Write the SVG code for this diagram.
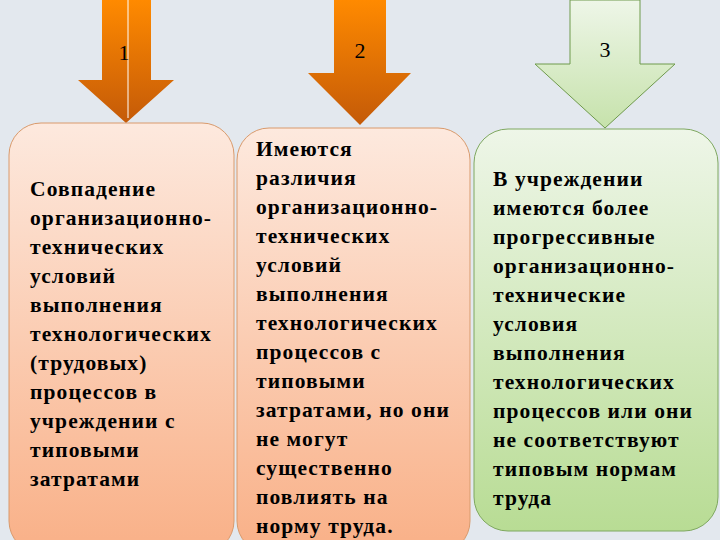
<svg xmlns="http://www.w3.org/2000/svg" width="720" height="540" viewBox="0 0 720 540">
<defs>
<linearGradient id="og" x1="0" y1="0" x2="0" y2="1"><stop offset="0" stop-color="#ff8a00"/><stop offset="1" stop-color="#c45a08"/></linearGradient>
<linearGradient id="gg" x1="0" y1="0" x2="0" y2="1"><stop offset="0" stop-color="#eef6e8"/><stop offset="1" stop-color="#c6e2ab"/></linearGradient>
<linearGradient id="pb" x1="0" y1="0" x2="0" y2="1"><stop offset="0" stop-color="#fde9de"/><stop offset="1" stop-color="#f9b087"/></linearGradient>
<linearGradient id="gb" x1="0" y1="0" x2="0" y2="1"><stop offset="0" stop-color="#eef6e8"/><stop offset="1" stop-color="#b8dc94"/></linearGradient>
<style>
.t{font-family:"Liberation Serif",serif;font-weight:bold;font-size:21.5px;letter-spacing:1.1px;fill:#000}
.n{font-family:"Liberation Serif",serif;font-size:22px;fill:#000}
.pb{fill:url(#pb);stroke:#d99a6c;stroke-width:1}
.gb{fill:url(#gb);stroke:#7fa860;stroke-width:1}
</style>
</defs>
<rect width="720" height="540" fill="#e3e8ee"/>
<g id="arrows">
<g id="arrow1"><polygon points="102,0 151,0 151,80 174,80 126,123 78,80 102,80" fill="url(#og)"/><line x1="128" y1="0" x2="128" y2="118" stroke="#fff" stroke-width="1"/><text class="n" x="124" y="60" text-anchor="middle">1</text></g>
<g id="arrow2"><polygon points="334,0 386,0 386,73 411,73 360,125 308,73 334,73" fill="url(#og)"/><text class="n" x="360" y="58" text-anchor="middle">2</text></g>
<g id="arrow3"><polygon points="570,0 640,0 640,64 675,64 605,128 535,64 570,64" fill="url(#gg)" stroke="#6f9a4c" stroke-width="1"/><text class="n" x="605" y="57" text-anchor="middle">3</text></g>
</g>
<g id="box1"><rect class="pb" x="9" y="123" width="225" height="430" rx="32"/>
<text class="t" x="30" y="196"><tspan x="30">Совпадение</tspan><tspan x="30" dy="29">организационно-</tspan><tspan x="30" dy="29">технических</tspan><tspan x="30" dy="29">условий</tspan><tspan x="30" dy="29">выполнения</tspan><tspan x="30" dy="29">технологических</tspan><tspan x="30" dy="29">(трудовых)</tspan><tspan x="30" dy="29">процессов в</tspan><tspan x="30" dy="29">учреждении с</tspan><tspan x="30" dy="29">типовыми</tspan><tspan x="30" dy="29">затратами</tspan></text></g>
<g id="box2"><rect class="pb" x="237" y="128" width="233" height="425" rx="32"/>
<text class="t" x="256" y="156"><tspan x="256">Имеются</tspan><tspan x="256" dy="29">различия</tspan><tspan x="256" dy="29">организационно-</tspan><tspan x="256" dy="29">технических</tspan><tspan x="256" dy="29">условий</tspan><tspan x="256" dy="29">выполнения</tspan><tspan x="256" dy="29">технологических</tspan><tspan x="256" dy="29">процессов с</tspan><tspan x="256" dy="29">типовыми</tspan><tspan x="256" dy="29">затратами, но они</tspan><tspan x="256" dy="29">не могут</tspan><tspan x="256" dy="29">существенно</tspan><tspan x="256" dy="29">повлиять на</tspan><tspan x="256" dy="29">норму труда.</tspan></text></g>
<g id="box3"><rect class="gb" x="474" y="129" width="244" height="402" rx="34"/>
<text class="t" x="493" y="186"><tspan x="493">В учреждении</tspan><tspan x="493" dy="29">имеются более</tspan><tspan x="493" dy="29">прогрессивные</tspan><tspan x="493" dy="29">организационно-</tspan><tspan x="493" dy="29">технические</tspan><tspan x="493" dy="29">условия</tspan><tspan x="493" dy="29">выполнения</tspan><tspan x="493" dy="29">технологических</tspan><tspan x="493" dy="29">процессов или они</tspan><tspan x="493" dy="29">не соответствуют</tspan><tspan x="493" dy="29">типовым нормам</tspan><tspan x="493" dy="29">труда</tspan></text></g>
</svg>
